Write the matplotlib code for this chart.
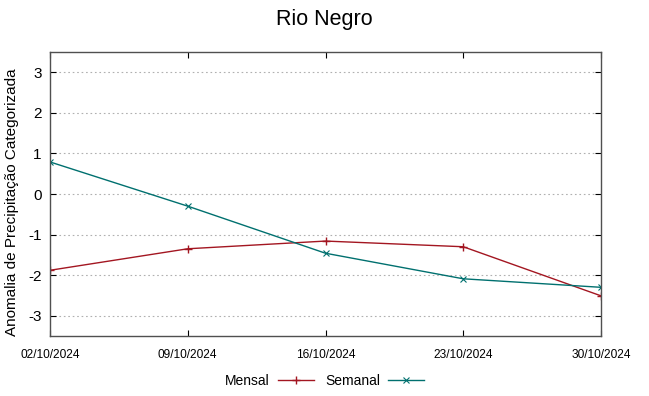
import numpy as np
import matplotlib
matplotlib.use("Agg")
import matplotlib.pyplot as plt

plt.rcParams['font.family'] = ['Liberation Sans', 'DejaVu Sans']
plt.rcParams['axes.unicode_minus'] = False

# Datos
fechas = ["02/10/2024", "09/10/2024", "16/10/2024", "23/10/2024", "30/10/2024"]
mensal = [-1.88, -1.35, -1.16, -1.30, -2.51]
semanal = [0.79, -0.30, -1.46, -2.09, -2.30]

x = np.arange(len(fechas))

fig = plt.figure(figsize=(6.49, 3.96), dpi=100)
ax = fig.add_axes([50/649, 1 - 336/396, 551/649, 284/396])

ax.plot(x, mensal, color="#a31621", lw=1, marker="+", ms=6, mew=1, label="Mensal")
ax.plot(x, semanal, color="#00706f", lw=1, marker="x", ms=4.5, mew=0.8, label="Semanal")

ax.set_xlim(0, len(fechas) - 1)
ax.set_ylim(-3.5, 3.5)
ax.set_yticks([-3, -2, -1, 0, 1, 2, 3])
ax.set_xticks(x)
ax.set_xticklabels(fechas, fontsize=8.6)
ax.tick_params(axis="y", labelsize=11, direction="in", right=True, length=4, pad=6)
ax.tick_params(axis="x", direction="in", top=True, length=4, pad=9)
ax.grid(axis="y", linestyle=(0, (1.5, 2.5)), color="#b0b0b0", lw=0.8)
for s in ax.spines.values():
    s.set_color("#505050")
    s.set_linewidth(1)

ax.set_ylabel("Anomalia de Precipitação Categorizada", fontsize=11, labelpad=2)
ax.yaxis.set_label_coords(-0.057, 0.47)
fig.text(0.5, 1 - 20/396, "Rio Negro", fontsize=15.5, ha="center", va="center")

fig.legend(loc="center", bbox_to_anchor=(0.5, 1 - 381/396), ncol=2, frameon=False,
           markerfirst=False, fontsize=10, handlelength=2.6, columnspacing=0.8,
           handletextpad=0.6)

fig.savefig("out.png", dpi=100)
